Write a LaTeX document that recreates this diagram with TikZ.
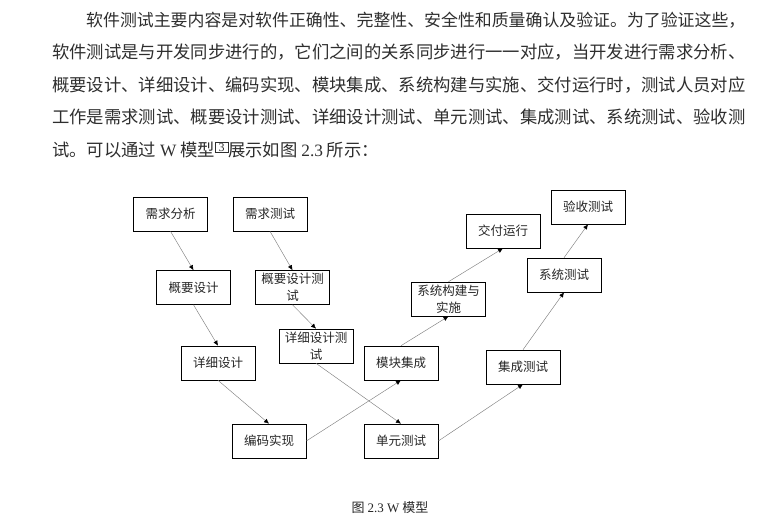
\documentclass[tikz,border=0pt]{standalone}
\usepackage{fontspec}
\setmainfont{Liberation Serif}
\newfontfamily\cjk{Noto Sans CJK SC}
\usepackage{tikz}
\usetikzlibrary{arrows.meta,positioning}
\tikzset{
  stagebox/.style={draw=black, line width=0.6pt, minimum width=74pt, minimum height=34pt,
               inner sep=1pt, text width=68pt, align=center,
               font=\cjk\fontsize{12.5}{17}\selectfont, text=black!85},
  flow/.style={-{Latex[length=5pt,width=4.5pt,black]}, draw=black!50, line width=0.45pt},
  paraline/.style={anchor=base west, inner sep=0pt, text=black!82},
  captext/.style={font=\cjk\fontsize{13}{13}\selectfont, inner sep=0pt, text=black!85},
}
\newcommand{\textline}[4]{%
  \node[paraline, font=\cjk\fontsize{#3}{#3}\selectfont] (#1) at (#2) {#4};}
\newcommand{\citemark}{\raisebox{5.5pt}{\setlength{\fboxsep}{1pt}\setlength{\fboxrule}{0.6pt}%
  \rlap{\color{red}\rule[-1.6pt]{13pt}{0.9pt}}\fbox{\fontsize{12}{12}\selectfont\rmfamily\,3\,}}}

\begin{document}
\begin{tikzpicture}[x=1pt, y=-1pt]
  \useasboundingbox (0,0) rectangle (782,515);
  % paragraph above the figure
  \textline{p1}{86,26.6}{16.9}{软件测试主要内容是对软件正确性、完整性、安全性和质量确认及验证。为了验证这些，}
  \textline{p2}{52,58.6}{17.33}{软件测试是与开发同步进行的，它们之间的关系同步进行一一对应，当开发进行需求分析、}
  \textline{p3}{52,91.6}{17.33}{概要设计、详细设计、编码实现、模块集成、系统构建与实施、交付运行时，测试人员对应}
  \textline{p4}{52,123.6}{17.33}{工作是需求测试、概要设计测试、详细设计测试、单元测试、集成测试、系统测试、验收测}
  \textline{p5}{52,156.6}{17.33}{试。可以通过 {\rmfamily W} 模型\citemark 展示如图 {\rmfamily 2.3} 所示：}
  % left branch: development
  \node[stagebox] (xqfx) at (170.5,214) {需求分析};
  \node[stagebox] (gysj) at (193.5,287.5) {概要设计};
  \node[stagebox] (xxsj) at (218,363) {详细设计};
  \node[stagebox] (bmsx) at (269,441) {编码实现};
  \node[stagebox] (mkjc) at (401,363) {模块集成};
  \node[stagebox] (xtgj) at (448.5,299) {系统构建与\\实施};
  \node[stagebox] (jfyx) at (503,231) {交付运行};
  % right branch: testing
  \node[stagebox] (xqcs) at (270,214) {需求测试};
  \node[stagebox] (gycs) at (292.5,287.5) {概要设计测\\试};
  \node[stagebox] (xxcs) at (316,346) {详细设计测\\试};
  \node[stagebox] (dycs) at (401,441) {单元测试};
  \node[stagebox] (jccs) at (523,367) {集成测试};
  \node[stagebox] (xtcs) at (564,275) {系统测试};
  \node[stagebox] (yscs) at (588,207) {验收测试};
  \draw[flow] (xqfx.south) -- (gysj.north);
  \draw[flow] (gysj.south) -- (xxsj.north);
  \draw[flow] (xxsj.south) -- (bmsx.north);
  \draw[flow] (bmsx.east) -- (mkjc.south);
  \draw[flow] (mkjc.north) -- (xtgj.south);
  \draw[flow] (xtgj.north) -- (jfyx.south);
  \draw[flow] (xqcs.south) -- (gycs.north);
  \draw[flow] (gycs.south) -- (xxcs.north);
  \draw[flow] (xxcs.south) -- (dycs.north);
  \draw[flow] (dycs.east) -- (jccs.south);
  \draw[flow] (jccs.north) -- (xtcs.south);
  \draw[flow] (xtcs.north) -- (yscs.south);
  \node[captext] (cap) at (390,508) {图 {\rmfamily 2.3 W} 模型};
\end{tikzpicture}
\end{document}
